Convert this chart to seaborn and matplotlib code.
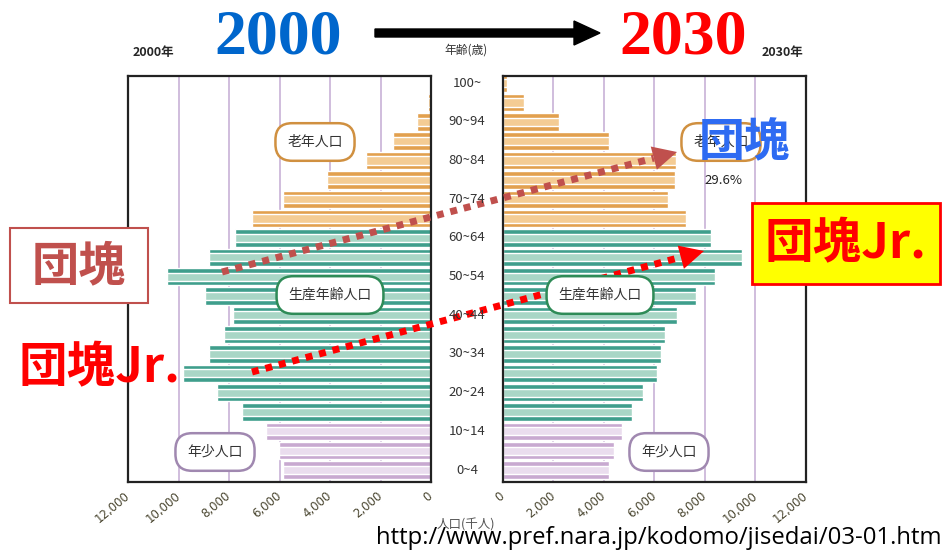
import matplotlib
matplotlib.use('Agg')
import numpy as np
import pandas as pd
import seaborn as sns
from matplotlib import pyplot as plt
from matplotlib.patches import Polygon, Rectangle

# 年齢階級（下から上へ）
ages = ['0~4', '5~9', '10~14', '15~19', '20~24', '25~29', '30~34', '35~39', '40~44',
        '45~49', '50~54', '55~59', '60~64', '65~69', '70~74', '75~79', '80~84',
        '85~89', '90~94', '95~99', '100~']
# 人口（千人）
pop_2000 = [5870, 6030, 6550, 7500, 8490, 9840, 8810, 8200, 7860, 8970, 10440,
            8810, 7780, 7100, 5870, 4130, 2580, 1500, 555, 120, 15]
pop_2030 = [4200, 4400, 4710, 5110, 5540, 6100, 6260, 6420, 6890, 7640, 8400,
            9470, 8240, 7250, 6530, 6810, 6850, 4200, 2220, 830, 160]
groups = ['年少人口'] * 3 + ['生産年齢人口'] * 10 + ['老年人口'] * 8
group_names = ['年少人口', '生産年齢人口', '老年人口']
xticks = [0, 2000, 4000, 6000, 8000, 10000, 12000]

sns.set_style('white')
plt.rcParams['font.family'] = ['Noto Sans CJK JP', 'DejaVu Sans']

df = pd.DataFrame({'age': ages, 'y2000': pop_2000, 'y2030': pop_2030, 'group': groups})
order = ages[::-1]
dark = ['#C8A9D0', '#3F9E8C', '#E2A04E']
light = ['#EADDEE', '#A9D6C6', '#F4CC94']

W, H = 943, 552
fig = plt.figure(figsize=(W / 100, H / 100), dpi=100)


def px_box(x0, y0, x1, y1):
    return [x0 / W, 1 - y1 / H, (x1 - x0) / W, (y1 - y0) / H]


ax1 = fig.add_axes(px_box(128, 76, 431, 482))
ax2 = fig.add_axes(px_box(503, 76, 806, 482))

for ax, col in [(ax1, 'y2000'), (ax2, 'y2030')]:
    for x in xticks[1:-1]:
        ax.axvline(x, color='#CDB8DA', lw=1.3, zorder=0)
    for pal, w in [(dark, 0.9), (light, 0.42)]:
        sns.barplot(data=df, x=col, y='age', hue='group', order=order,
                    hue_order=group_names, palette=pal, dodge=False, width=w,
                    saturation=1, errorbar=None, legend=False, ax=ax, zorder=2)
    ax.set_ylim(20.62, -0.37)
    ax.set_yticks([])
    ax.set_xlabel('')
    ax.set_ylabel('')
    ax.set_xticks(xticks)
    ax.set_xticklabels([f'{v:,}' for v in xticks], family='DejaVu Sans')
    ax.tick_params(axis='x', length=0, pad=9, labelsize=8.5, labelcolor='#4a4630')
    for lab in ax.get_xticklabels():
        lab.set_rotation(40)
        lab.set_ha('right')
        lab.set_va('center')
        lab.set_rotation_mode('anchor')
    for sp in ax.spines.values():
        sp.set_visible(True)
        sp.set_color('#222222')
        sp.set_linewidth(1.6)

ax1.set_xlim(12000, 0)
ax2.set_xlim(0, 12000)

# 注記用のオーバーレイ（ピクセル座標）
ov = fig.add_axes([0, 0, 1, 1], zorder=10)
ov.set_xlim(0, W)
ov.set_ylim(H, 0)
ov.axis('off')
ov.patch.set_alpha(0)

# 見出し
ov.text(153, 56, '2000年', ha='center', va='baseline', fontsize=9, fontweight='bold')
ov.text(278, 54, '2000', ha='center', va='baseline', fontsize=46,
        family='Liberation Serif', fontweight='bold', color='#0066CC')
ov.arrow(375, 33, 225, 0, width=8, head_width=24, head_length=26,
         length_includes_head=True, color='black')
ov.text(466, 50, '年齢(歳)', ha='center', va='center', fontsize=8.5, color='#333333')
ov.text(683, 54, '2030', ha='center', va='baseline', fontsize=46,
        family='Liberation Serif', fontweight='bold', color='#FF0000')
ov.text(782, 56, '2030年', ha='center', va='baseline', fontsize=9, fontweight='bold')

# 年齢ラベル
for i, a in enumerate(ages):
    if i % 2 == 0:
        ov.text(467, 470 - i * 19.34, a, ha='center', va='center', fontsize=9.5,
                color='#333333')

ov.text(466, 525, '人口(千人)', ha='center', va='center', fontsize=9, color='#555555')


def label(x, y, s, edge):
    ov.text(x, y, s, ha='center', va='center', fontsize=10, color='#333333',
            bbox=dict(boxstyle='round,pad=0.85,rounding_size=1.2', fc='white',
                      ec=edge, lw=1.8))


label(315, 142, '老年人口', '#D09040')
label(330, 295, '生産年齢人口', '#2E8B57')
label(215, 452, '年少人口', '#A088B0')
label(721, 142, '老年人口', '#D09040')
label(600, 295, '生産年齢人口', '#2E8B57')
label(669, 452, '年少人口', '#A088B0')
ov.text(723, 180, '29.6%', ha='center', va='center', fontsize=9.5, color='#222222')


def dotted_arrow(x0, y0, x1, y1, color):
    d = np.array([x1 - x0, y1 - y0], dtype=float)
    u = d / np.hypot(*d)
    n = np.array([-u[1], u[0]])
    base = np.array([x1, y1]) - u * 24
    ov.plot([x0, base[0]], [y0, base[1]], color=color, lw=5,
            linestyle=(0, (1, 1)), dash_capstyle='butt')
    tri = [(x1, y1), tuple(base + n * 12), tuple(base - n * 12)]
    ov.add_patch(Polygon(tri, closed=True, fc=color, ec='none'))


dotted_arrow(222, 272, 677, 152, '#C0504D')
dotted_arrow(252, 372, 704, 251, '#FF0000')

# 団塊ラベル
ov.add_patch(Rectangle((10, 228), 138, 75, fc='white', ec='#C0504D', lw=1.5))
ov.text(79, 266, '団塊', ha='center', va='center', fontsize=34, fontweight='bold',
        color='#C0504D')
ov.text(100, 368, '団塊Jr.', ha='center', va='center', fontsize=35, fontweight='bold',
        color='#FF0000')
ov.text(745, 143, '団塊', ha='center', va='center', fontsize=33, fontweight='bold',
        color='#2E6BF2')
ov.add_patch(Rectangle((752, 203), 188, 81, fc='#FFFF00', ec='#FF0000', lw=2))
ov.text(846, 244, '団塊Jr.', ha='center', va='center', fontsize=35, fontweight='bold',
        color='#FF0000')

ov.text(942, 538, 'http://www.pref.nara.jp/kodomo/jisedai/03-01.htm', ha='right',
        va='center', fontsize=17.2, family='Open Sans', color='black')

fig.savefig('out.png', dpi=100)
